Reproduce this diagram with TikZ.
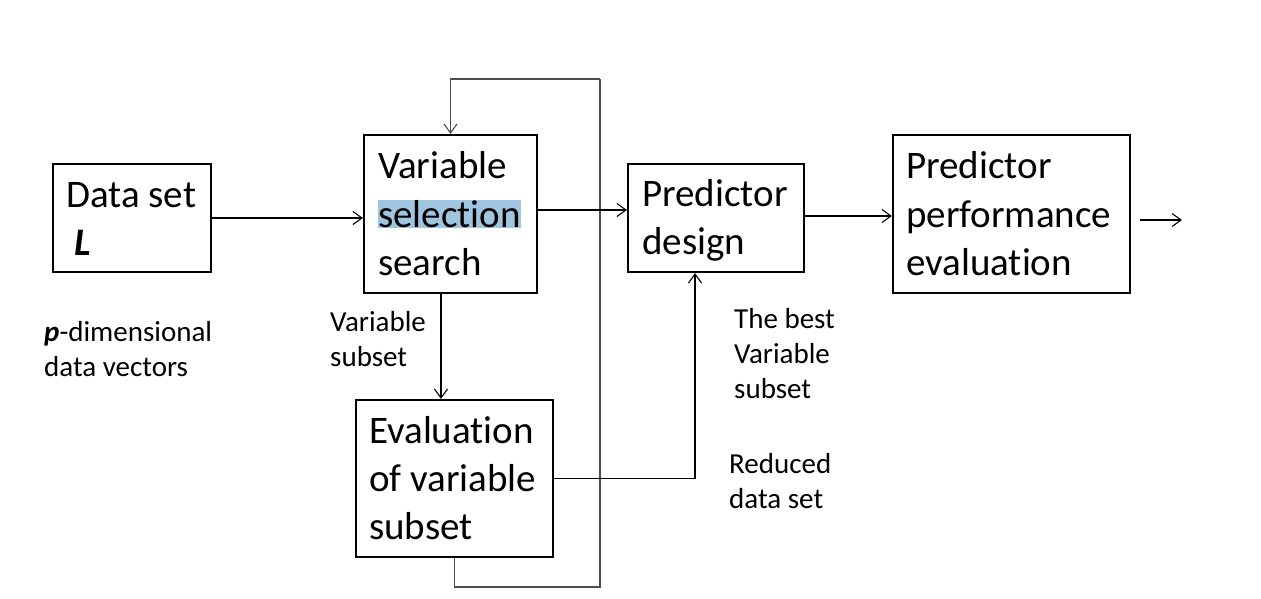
\documentclass[tikz,border=0pt]{standalone}
\usepackage{fontspec}
\setmainfont{Carlito}[Ligatures=NoCommon]
\usetikzlibrary{arrows.meta}
\definecolor{hl}{RGB}{160,197,224}
\begin{document}
\begin{tikzpicture}[x=1pt,y=-1pt,
  box/.style={draw=black, line width=2.2pt, fill=none, inner sep=0pt},
  big/.style={anchor=base west, inner sep=0pt, font=\fontsize{39}{48}\selectfont},
  lab/.style={anchor=base west, inner sep=0pt, font=\fontsize{29}{35}\selectfont},
  conn/.style={line width=1.1pt, draw=black},
  loop/.style={line width=1.1pt, draw=black!70},
  >={Straight Barb[length=9pt,width=13pt,line width=1.1pt]}]
\useasboundingbox (0,0) rectangle (1261,598);
% boxes
\node[box, minimum width=158, minimum height=108] (ds) at (132,218) {};
\node[box, minimum width=173, minimum height=158] (vss) at (450.5,214) {};
\node[box, minimum width=176, minimum height=108] (pd) at (716,218) {};
\node[box, minimum width=237, minimum height=158] (ppe) at (1011.5,214) {};
\node[box, minimum width=197, minimum height=157] (ev) at (454.5,478.5) {};
% highlight
\fill[hl] (378,200) rectangle (521,228);
% box texts
\node[big] (t1) at (66,207) {Data set};
\node[big] (t2) at (74,255) {\textbf{\textit{L}}};
\node[big] (t3) at (378,178) {Variable};
\node[big] (t4) at (378,227) {selection};
\node[big] (t5) at (378,275) {search};
\node[big] (t6) at (642,206) {Predictor};
\node[big] (t7) at (642,254) {design};
\node[big] (t8) at (906,178) {Predictor};
\node[big] (t9) at (906,227) {performance};
\node[big] (t10) at (906,275) {evaluation};
\node[big] (t11) at (369,443) {Evaluation};
\node[big] (t12) at (369,491) {of variable};
\node[big] (t13) at (369,539) {subset};
% labels
\node[lab] (l1) at (44,341) {\textbf{\textit{p}}-dimensional};
\node[lab] (l2) at (44,376) {data vectors};
\node[lab] (l3) at (330,331) {Variable};
\node[lab] (l4) at (330,366) {subset};
\node[lab] (l5) at (734,328) {The best};
\node[lab] (l6) at (734,363) {Variable};
\node[lab] (l7) at (734,398) {subset};
\node[lab] (l8) at (729,473) {Reduced};
\node[lab] (l9) at (729,508) {data set};
% connectors
\coordinate (lpb) at (600,587);
\coordinate (lpt) at (600,79);
\coordinate (outS) at (1140,220);
\coordinate (outE) at (1182,220);
\draw[loop] (ev.south) |- (lpb) -- (lpt);
\draw[loop,->] (lpt) -| (vss.north);
\draw[conn,->] (ds.east) -- (ds.east -| vss.west);
\draw[conn,->] ([yshift=4pt]vss.east) -- ([yshift=4pt]vss.east -| pd.west);
\draw[conn,->] ([yshift=2pt]pd.east) -- ([yshift=2pt]pd.east -| ppe.west);
\draw[conn,->] (outS) -- (outE);
\draw[conn,->] ([xshift=-9.5pt]vss.south) -- ([xshift=-9.5pt]vss.south |- ev.north);
\draw[conn,->] (ev.east) -| ([xshift=-21pt]pd.south);
\end{tikzpicture}
\end{document}
